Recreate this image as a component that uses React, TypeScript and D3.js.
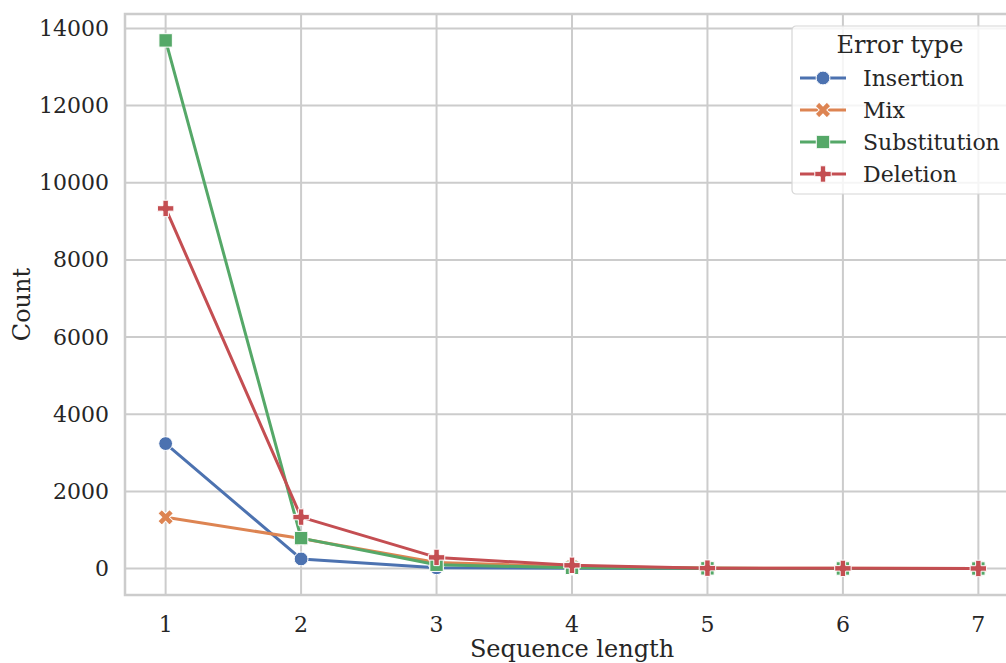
import * as d3 from "d3";

const WIDTH = 1006;
const HEIGHT = 663;
const MARGIN = { top: 14, right: -13, bottom: 68, left: 125 };

const lengths = [1, 2, 3, 4, 5, 6, 7];
const errorTypes = ["Insertion", "Mix", "Substitution", "Deletion"];
const insertion = [3240, 250, 20, 8, 4, 2, 1];
const mix = [1330, 780, 160, 50, 15, 6, 3];
const substitution = [13690, 790, 100, 20, 6, 3, 2];
const deletion = [9335, 1335, 290, 85, 12, 6, 3];
const yTicks = [0, 2000, 4000, 6000, 8000, 10000, 12000, 14000];

const colors = ["#4C72B0", "#DD8452", "#55A868", "#C44E52"];
const FONT = "DejaVu Serif";

const series = [insertion, mix, substitution, deletion];

const markerPath = (i: number) => {
  if (i === 0) return d3.symbol(d3.symbolCircle, 150)()!;
  if (i === 2) return d3.symbol(d3.symbolSquare, 180)()!;
  return d3.symbol(d3.symbolCross, 150)()!;
};
const markerRotate = (i: number) => (i === 1 ? 45 : 0);

export default function App() {
  const innerW = WIDTH - MARGIN.left - MARGIN.right;
  const innerH = HEIGHT - MARGIN.top - MARGIN.bottom;

  const x = d3.scaleLinear().domain([0.7, 7.3]).range([0, innerW]);
  const yExt = [0, d3.max(substitution)!];
  const pad = (yExt[1] - yExt[0]) * 0.05;
  const y = d3
    .scaleLinear()
    .domain([yExt[0] - pad, yExt[1] + pad])
    .range([innerH, 0]);

  const line = d3
    .line<number>()
    .x((_, i) => x(lengths[i]))
    .y((d) => y(d));

  return (
    <svg
      width={WIDTH}
      height={HEIGHT}
      style={{ position: "absolute", left: 0, top: 0, background: "white" }}
      fontFamily={FONT}
    >
      <g transform={`translate(${MARGIN.left},${MARGIN.top})`}>
        {/* grid */}
        {yTicks.map((t) => (
          <line
            key={"gy" + t}
            x1={0}
            x2={innerW}
            y1={y(t)}
            y2={y(t)}
            stroke="#cccccc"
            strokeWidth={2}
          />
        ))}
        {lengths.map((t) => (
          <line
            key={"gx" + t}
            x1={x(t)}
            x2={x(t)}
            y1={0}
            y2={innerH}
            stroke="#cccccc"
            strokeWidth={2}
          />
        ))}
        <rect
          x={0}
          y={0}
          width={innerW}
          height={innerH}
          fill="none"
          stroke="#cccccc"
          strokeWidth={2.5}
        />

        {/* lines and markers */}
        {series.map((vals, si) => (
          <g key={errorTypes[si]}>
            <path
              d={line(vals)!}
              fill="none"
              stroke={colors[si]}
              strokeWidth={3}
              strokeLinejoin="round"
            />
            {vals.map((v, i) => (
              <path
                key={i}
                d={markerPath(si)}
                transform={`translate(${x(lengths[i])},${y(v)}) rotate(${markerRotate(si)})`}
                fill={colors[si]}
                stroke="white"
                strokeWidth={1}
              />
            ))}
          </g>
        ))}

        {/* y ticks */}
        {yTicks.map((t) => (
          <text
            key={"ty" + t}
            x={-16}
            y={y(t)}
            textAnchor="end"
            dominantBaseline="central"
            fontSize={22}
            fill="#262626"
          >
            {t}
          </text>
        ))}
        {/* x ticks */}
        {lengths.map((t) => (
          <text
            key={"tx" + t}
            x={x(t)}
            y={innerH + 29}
            textAnchor="middle"
            dominantBaseline="central"
            fontSize={22}
            fill="#262626"
          >
            {t}
          </text>
        ))}

        <text
          x={innerW / 2}
          y={innerH + 54}
          textAnchor="middle"
          dominantBaseline="central"
          fontSize={24}
          fill="#262626"
        >
          Sequence length
        </text>
        <text
          transform={`translate(${22 - MARGIN.left},${innerH / 2}) rotate(-90)`}
          textAnchor="middle"
          dominantBaseline="central"
          fontSize={24}
          fill="#262626"
        >
          Count
        </text>
      </g>

      {/* legend */}
      <g transform="translate(792,26)">
        <rect
          x={0}
          y={0}
          width={240}
          height={168}
          rx={4}
          fill="white"
          fillOpacity={0.8}
          stroke="#d6d6d6"
          strokeWidth={1.2}
        />
        <text
          x={108}
          y={19}
          textAnchor="middle"
          dominantBaseline="central"
          fontSize={24}
          fill="#262626"
        >
          Error type
        </text>
        {errorTypes.map((name, i) => (
          <g key={name} transform={`translate(0,${52 + i * 32})`}>
            <line x1={8} x2={54} y1={0} y2={0} stroke={colors[i]} strokeWidth={3} />
            <path
              d={markerPath(i)}
              transform={`translate(31,0) rotate(${markerRotate(i)})`}
              fill={colors[i]}
              stroke="white"
              strokeWidth={1}
            />
            <text
              x={71}
              y={0}
              dominantBaseline="central"
              fontSize={22}
              fill="#262626"
            >
              {name}
            </text>
          </g>
        ))}
      </g>
    </svg>
  );
}
